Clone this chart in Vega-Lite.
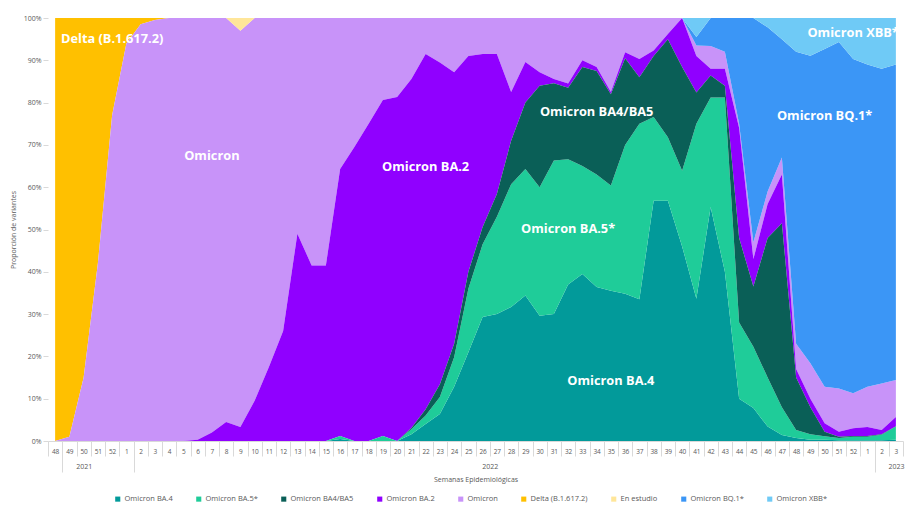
{
  "$schema": "https://vega.github.io/schema/vega-lite/v6.json",
  "width": 855,
  "height": 423,
  "autosize": {"type": "none"},
  "padding": {"left": 48, "top": 18, "right": 4, "bottom": 65},
  "background": "white",
  "config": {"view": {"stroke": null}, "font": "Open Sans"},
  "datasets": {
    "semanas": [
      {"semana": "2021-48", "variante": "Delta (B.1.617.2)", "pct": 100},
      {"semana": "2021-49", "variante": "Delta (B.1.617.2)", "pct": 99},
      {"semana": "2021-50", "variante": "Delta (B.1.617.2)", "pct": 85},
      {"semana": "2021-51", "variante": "Delta (B.1.617.2)", "pct": 58},
      {"semana": "2021-52", "variante": "Delta (B.1.617.2)", "pct": 23},
      {"semana": "2022-1", "variante": "Delta (B.1.617.2)", "pct": 6},
      {"semana": "2022-2", "variante": "Delta (B.1.617.2)", "pct": 1.5},
      {"semana": "2022-3", "variante": "Delta (B.1.617.2)", "pct": 0.5},
      {"semana": "2022-4", "variante": "Delta (B.1.617.2)", "pct": 0},

      {"semana": "2021-48", "variante": "Omicron", "pct": 0},
      {"semana": "2021-49", "variante": "Omicron", "pct": 1},
      {"semana": "2021-50", "variante": "Omicron", "pct": 15},
      {"semana": "2021-51", "variante": "Omicron", "pct": 42},
      {"semana": "2021-52", "variante": "Omicron", "pct": 77},
      {"semana": "2022-1", "variante": "Omicron", "pct": 94},
      {"semana": "2022-2", "variante": "Omicron", "pct": 98.5},
      {"semana": "2022-3", "variante": "Omicron", "pct": 99.5},
      {"semana": "2022-4", "variante": "Omicron", "pct": 100},
      {"semana": "2022-5", "variante": "Omicron", "pct": 100},
      {"semana": "2022-6", "variante": "Omicron", "pct": 99.7},
      {"semana": "2022-7", "variante": "Omicron", "pct": 98},
      {"semana": "2022-8", "variante": "Omicron", "pct": 95.5},
      {"semana": "2022-9", "variante": "Omicron", "pct": 93.7},
      {"semana": "2022-10", "variante": "Omicron", "pct": 90.5},
      {"semana": "2022-11", "variante": "Omicron", "pct": 82.5},
      {"semana": "2022-12", "variante": "Omicron", "pct": 74},
      {"semana": "2022-13", "variante": "Omicron", "pct": 51},
      {"semana": "2022-14", "variante": "Omicron", "pct": 58.5},
      {"semana": "2022-15", "variante": "Omicron", "pct": 58.5},
      {"semana": "2022-16", "variante": "Omicron", "pct": 35.7},
      {"semana": "2022-17", "variante": "Omicron", "pct": 30.5},
      {"semana": "2022-18", "variante": "Omicron", "pct": 25},
      {"semana": "2022-19", "variante": "Omicron", "pct": 19.4},
      {"semana": "2022-20", "variante": "Omicron", "pct": 18.7},
      {"semana": "2022-21", "variante": "Omicron", "pct": 14.4},
      {"semana": "2022-22", "variante": "Omicron", "pct": 8.5},
      {"semana": "2022-23", "variante": "Omicron", "pct": 10.5},
      {"semana": "2022-24", "variante": "Omicron", "pct": 12.8},
      {"semana": "2022-25", "variante": "Omicron", "pct": 9},
      {"semana": "2022-26", "variante": "Omicron", "pct": 8.5},
      {"semana": "2022-27", "variante": "Omicron", "pct": 8.5},
      {"semana": "2022-28", "variante": "Omicron", "pct": 17.5},
      {"semana": "2022-29", "variante": "Omicron", "pct": 10.4},
      {"semana": "2022-30", "variante": "Omicron", "pct": 12.8},
      {"semana": "2022-31", "variante": "Omicron", "pct": 14.4},
      {"semana": "2022-32", "variante": "Omicron", "pct": 15.5},
      {"semana": "2022-33", "variante": "Omicron", "pct": 10},
      {"semana": "2022-34", "variante": "Omicron", "pct": 11.6},
      {"semana": "2022-35", "variante": "Omicron", "pct": 17.5},
      {"semana": "2022-36", "variante": "Omicron", "pct": 8.1},
      {"semana": "2022-37", "variante": "Omicron", "pct": 9.7},
      {"semana": "2022-38", "variante": "Omicron", "pct": 7.7},
      {"semana": "2022-39", "variante": "Omicron", "pct": 3.8},
      {"semana": "2022-40", "variante": "Omicron", "pct": 0},
      {"semana": "2022-41", "variante": "Omicron", "pct": 2.5},
      {"semana": "2022-42", "variante": "Omicron", "pct": 5.4},
      {"semana": "2022-43", "variante": "Omicron", "pct": 4},
      {"semana": "2022-44", "variante": "Omicron", "pct": 1},
      {"semana": "2022-45", "variante": "Omicron", "pct": 4},
      {"semana": "2022-46", "variante": "Omicron", "pct": 3},
      {"semana": "2022-47", "variante": "Omicron", "pct": 4},
      {"semana": "2022-48", "variante": "Omicron", "pct": 6},
      {"semana": "2022-49", "variante": "Omicron", "pct": 8.4},
      {"semana": "2022-50", "variante": "Omicron", "pct": 8.6},
      {"semana": "2022-51", "variante": "Omicron", "pct": 10.2},
      {"semana": "2022-52", "variante": "Omicron", "pct": 8.3},
      {"semana": "2023-1", "variante": "Omicron", "pct": 9.5},
      {"semana": "2023-2", "variante": "Omicron", "pct": 11},
      {"semana": "2023-3", "variante": "Omicron", "pct": 8.7},

      {"semana": "2022-5", "variante": "Omicron BA.2", "pct": 0},
      {"semana": "2022-6", "variante": "Omicron BA.2", "pct": 0.3},
      {"semana": "2022-7", "variante": "Omicron BA.2", "pct": 2},
      {"semana": "2022-8", "variante": "Omicron BA.2", "pct": 4.5},
      {"semana": "2022-9", "variante": "Omicron BA.2", "pct": 3.3},
      {"semana": "2022-10", "variante": "Omicron BA.2", "pct": 9.5},
      {"semana": "2022-11", "variante": "Omicron BA.2", "pct": 17.5},
      {"semana": "2022-12", "variante": "Omicron BA.2", "pct": 26},
      {"semana": "2022-13", "variante": "Omicron BA.2", "pct": 49},
      {"semana": "2022-14", "variante": "Omicron BA.2", "pct": 41.5},
      {"semana": "2022-15", "variante": "Omicron BA.2", "pct": 41.5},
      {"semana": "2022-16", "variante": "Omicron BA.2", "pct": 63.1},
      {"semana": "2022-17", "variante": "Omicron BA.2", "pct": 69.5},
      {"semana": "2022-18", "variante": "Omicron BA.2", "pct": 75},
      {"semana": "2022-19", "variante": "Omicron BA.2", "pct": 79.4},
      {"semana": "2022-20", "variante": "Omicron BA.2", "pct": 81.3},
      {"semana": "2022-21", "variante": "Omicron BA.2", "pct": 82.5},
      {"semana": "2022-22", "variante": "Omicron BA.2", "pct": 84},
      {"semana": "2022-23", "variante": "Omicron BA.2", "pct": 76.1},
      {"semana": "2022-24", "variante": "Omicron BA.2", "pct": 64.2},
      {"semana": "2022-25", "variante": "Omicron BA.2", "pct": 51},
      {"semana": "2022-26", "variante": "Omicron BA.2", "pct": 40.9},
      {"semana": "2022-27", "variante": "Omicron BA.2", "pct": 33.1},
      {"semana": "2022-28", "variante": "Omicron BA.2", "pct": 11.5},
      {"semana": "2022-29", "variante": "Omicron BA.2", "pct": 9.6},
      {"semana": "2022-30", "variante": "Omicron BA.2", "pct": 3.2},
      {"semana": "2022-31", "variante": "Omicron BA.2", "pct": 1},
      {"semana": "2022-32", "variante": "Omicron BA.2", "pct": 1},
      {"semana": "2022-33", "variante": "Omicron BA.2", "pct": 1.6},
      {"semana": "2022-34", "variante": "Omicron BA.2", "pct": 0.9},
      {"semana": "2022-35", "variante": "Omicron BA.2", "pct": 0.5},
      {"semana": "2022-36", "variante": "Omicron BA.2", "pct": 1.4},
      {"semana": "2022-37", "variante": "Omicron BA.2", "pct": 4.3},
      {"semana": "2022-38", "variante": "Omicron BA.2", "pct": 1.3},
      {"semana": "2022-39", "variante": "Omicron BA.2", "pct": 1.2},
      {"semana": "2022-40", "variante": "Omicron BA.2", "pct": 11.6},
      {"semana": "2022-41", "variante": "Omicron BA.2", "pct": 8.6},
      {"semana": "2022-42", "variante": "Omicron BA.2", "pct": 1.6},
      {"semana": "2022-43", "variante": "Omicron BA.2", "pct": 4},
      {"semana": "2022-44", "variante": "Omicron BA.2", "pct": 26},
      {"semana": "2022-45", "variante": "Omicron BA.2", "pct": 6.5},
      {"semana": "2022-46", "variante": "Omicron BA.2", "pct": 8},
      {"semana": "2022-47", "variante": "Omicron BA.2", "pct": 11.5},
      {"semana": "2022-48", "variante": "Omicron BA.2", "pct": 2},
      {"semana": "2022-49", "variante": "Omicron BA.2", "pct": 2},
      {"semana": "2022-50", "variante": "Omicron BA.2", "pct": 2},
      {"semana": "2022-51", "variante": "Omicron BA.2", "pct": 1.2},
      {"semana": "2022-52", "variante": "Omicron BA.2", "pct": 1.8},
      {"semana": "2023-1", "variante": "Omicron BA.2", "pct": 2.1},
      {"semana": "2023-2", "variante": "Omicron BA.2", "pct": 1},
      {"semana": "2023-3", "variante": "Omicron BA.2", "pct": 2.2},

      {"semana": "2022-15", "variante": "Omicron BA.4", "pct": 0},
      {"semana": "2022-16", "variante": "Omicron BA.4", "pct": 0.5},
      {"semana": "2022-17", "variante": "Omicron BA.4", "pct": 0},
      {"semana": "2022-20", "variante": "Omicron BA.4", "pct": 0},
      {"semana": "2022-21", "variante": "Omicron BA.4", "pct": 1.6},
      {"semana": "2022-22", "variante": "Omicron BA.4", "pct": 4},
      {"semana": "2022-23", "variante": "Omicron BA.4", "pct": 6.4},
      {"semana": "2022-24", "variante": "Omicron BA.4", "pct": 12.8},
      {"semana": "2022-25", "variante": "Omicron BA.4", "pct": 21},
      {"semana": "2022-26", "variante": "Omicron BA.4", "pct": 29.3},
      {"semana": "2022-27", "variante": "Omicron BA.4", "pct": 30},
      {"semana": "2022-28", "variante": "Omicron BA.4", "pct": 31.7},
      {"semana": "2022-29", "variante": "Omicron BA.4", "pct": 34.4},
      {"semana": "2022-30", "variante": "Omicron BA.4", "pct": 29.6},
      {"semana": "2022-31", "variante": "Omicron BA.4", "pct": 30},
      {"semana": "2022-32", "variante": "Omicron BA.4", "pct": 37},
      {"semana": "2022-33", "variante": "Omicron BA.4", "pct": 39.5},
      {"semana": "2022-34", "variante": "Omicron BA.4", "pct": 36.4},
      {"semana": "2022-35", "variante": "Omicron BA.4", "pct": 35.5},
      {"semana": "2022-36", "variante": "Omicron BA.4", "pct": 34.8},
      {"semana": "2022-37", "variante": "Omicron BA.4", "pct": 33.5},
      {"semana": "2022-38", "variante": "Omicron BA.4", "pct": 56.8},
      {"semana": "2022-39", "variante": "Omicron BA.4", "pct": 56.8},
      {"semana": "2022-40", "variante": "Omicron BA.4", "pct": 46},
      {"semana": "2022-41", "variante": "Omicron BA.4", "pct": 33.6},
      {"semana": "2022-42", "variante": "Omicron BA.4", "pct": 55.3},
      {"semana": "2022-43", "variante": "Omicron BA.4", "pct": 40},
      {"semana": "2022-44", "variante": "Omicron BA.4", "pct": 10},
      {"semana": "2022-45", "variante": "Omicron BA.4", "pct": 7.8},
      {"semana": "2022-46", "variante": "Omicron BA.4", "pct": 3.4},
      {"semana": "2022-47", "variante": "Omicron BA.4", "pct": 1.4},
      {"semana": "2022-48", "variante": "Omicron BA.4", "pct": 0.7},
      {"semana": "2022-49", "variante": "Omicron BA.4", "pct": 0.3},
      {"semana": "2022-50", "variante": "Omicron BA.4", "pct": 0.3},
      {"semana": "2022-51", "variante": "Omicron BA.4", "pct": 0.2},
      {"semana": "2022-52", "variante": "Omicron BA.4", "pct": 0.2},
      {"semana": "2023-1", "variante": "Omicron BA.4", "pct": 0.2},
      {"semana": "2023-2", "variante": "Omicron BA.4", "pct": 0.2},
      {"semana": "2023-3", "variante": "Omicron BA.4", "pct": 0.3},

      {"semana": "2022-15", "variante": "Omicron BA.5*", "pct": 0},
      {"semana": "2022-16", "variante": "Omicron BA.5*", "pct": 0.7},
      {"semana": "2022-17", "variante": "Omicron BA.5*", "pct": 0},
      {"semana": "2022-18", "variante": "Omicron BA.5*", "pct": 0},
      {"semana": "2022-19", "variante": "Omicron BA.5*", "pct": 1.2},
      {"semana": "2022-20", "variante": "Omicron BA.5*", "pct": 0},
      {"semana": "2022-21", "variante": "Omicron BA.5*", "pct": 1.2},
      {"semana": "2022-22", "variante": "Omicron BA.5*", "pct": 2},
      {"semana": "2022-23", "variante": "Omicron BA.5*", "pct": 4},
      {"semana": "2022-24", "variante": "Omicron BA.5*", "pct": 7},
      {"semana": "2022-25", "variante": "Omicron BA.5*", "pct": 15},
      {"semana": "2022-26", "variante": "Omicron BA.5*", "pct": 17.2},
      {"semana": "2022-27", "variante": "Omicron BA.5*", "pct": 23},
      {"semana": "2022-28", "variante": "Omicron BA.5*", "pct": 29},
      {"semana": "2022-29", "variante": "Omicron BA.5*", "pct": 29.9},
      {"semana": "2022-30", "variante": "Omicron BA.5*", "pct": 30.4},
      {"semana": "2022-31", "variante": "Omicron BA.5*", "pct": 36.3},
      {"semana": "2022-32", "variante": "Omicron BA.5*", "pct": 29.6},
      {"semana": "2022-33", "variante": "Omicron BA.5*", "pct": 25.5},
      {"semana": "2022-34", "variante": "Omicron BA.5*", "pct": 26.6},
      {"semana": "2022-35", "variante": "Omicron BA.5*", "pct": 24.9},
      {"semana": "2022-36", "variante": "Omicron BA.5*", "pct": 35.2},
      {"semana": "2022-37", "variante": "Omicron BA.5*", "pct": 41.5},
      {"semana": "2022-38", "variante": "Omicron BA.5*", "pct": 19.8},
      {"semana": "2022-39", "variante": "Omicron BA.5*", "pct": 15},
      {"semana": "2022-40", "variante": "Omicron BA.5*", "pct": 17.9},
      {"semana": "2022-41", "variante": "Omicron BA.5*", "pct": 41.4},
      {"semana": "2022-42", "variante": "Omicron BA.5*", "pct": 25.9},
      {"semana": "2022-43", "variante": "Omicron BA.5*", "pct": 41.2},
      {"semana": "2022-44", "variante": "Omicron BA.5*", "pct": 18},
      {"semana": "2022-45", "variante": "Omicron BA.5*", "pct": 14.5},
      {"semana": "2022-46", "variante": "Omicron BA.5*", "pct": 11.6},
      {"semana": "2022-47", "variante": "Omicron BA.5*", "pct": 6.6},
      {"semana": "2022-48", "variante": "Omicron BA.5*", "pct": 1.9},
      {"semana": "2022-49", "variante": "Omicron BA.5*", "pct": 1.3},
      {"semana": "2022-50", "variante": "Omicron BA.5*", "pct": 0.8},
      {"semana": "2022-51", "variante": "Omicron BA.5*", "pct": 0.5},
      {"semana": "2022-52", "variante": "Omicron BA.5*", "pct": 0.8},
      {"semana": "2023-1", "variante": "Omicron BA.5*", "pct": 0.8},
      {"semana": "2023-2", "variante": "Omicron BA.5*", "pct": 1.3},
      {"semana": "2023-3", "variante": "Omicron BA.5*", "pct": 3.1},

      {"semana": "2022-20", "variante": "Omicron BA4/BA5", "pct": 0},
      {"semana": "2022-21", "variante": "Omicron BA4/BA5", "pct": 0.3},
      {"semana": "2022-22", "variante": "Omicron BA4/BA5", "pct": 1.5},
      {"semana": "2022-23", "variante": "Omicron BA4/BA5", "pct": 3},
      {"semana": "2022-24", "variante": "Omicron BA4/BA5", "pct": 3.2},
      {"semana": "2022-25", "variante": "Omicron BA4/BA5", "pct": 4},
      {"semana": "2022-26", "variante": "Omicron BA4/BA5", "pct": 4.1},
      {"semana": "2022-27", "variante": "Omicron BA4/BA5", "pct": 5.4},
      {"semana": "2022-28", "variante": "Omicron BA4/BA5", "pct": 10.3},
      {"semana": "2022-29", "variante": "Omicron BA4/BA5", "pct": 15.7},
      {"semana": "2022-30", "variante": "Omicron BA4/BA5", "pct": 24},
      {"semana": "2022-31", "variante": "Omicron BA4/BA5", "pct": 18.3},
      {"semana": "2022-32", "variante": "Omicron BA4/BA5", "pct": 16.9},
      {"semana": "2022-33", "variante": "Omicron BA4/BA5", "pct": 23.4},
      {"semana": "2022-34", "variante": "Omicron BA4/BA5", "pct": 24.5},
      {"semana": "2022-35", "variante": "Omicron BA4/BA5", "pct": 21.6},
      {"semana": "2022-36", "variante": "Omicron BA4/BA5", "pct": 20.5},
      {"semana": "2022-37", "variante": "Omicron BA4/BA5", "pct": 11},
      {"semana": "2022-38", "variante": "Omicron BA4/BA5", "pct": 14.4},
      {"semana": "2022-39", "variante": "Omicron BA4/BA5", "pct": 23.2},
      {"semana": "2022-40", "variante": "Omicron BA4/BA5", "pct": 24.5},
      {"semana": "2022-41", "variante": "Omicron BA4/BA5", "pct": 7.4},
      {"semana": "2022-42", "variante": "Omicron BA4/BA5", "pct": 5.2},
      {"semana": "2022-43", "variante": "Omicron BA4/BA5", "pct": 2.8},
      {"semana": "2022-44", "variante": "Omicron BA4/BA5", "pct": 20},
      {"semana": "2022-45", "variante": "Omicron BA4/BA5", "pct": 14.2},
      {"semana": "2022-46", "variante": "Omicron BA4/BA5", "pct": 33},
      {"semana": "2022-47", "variante": "Omicron BA4/BA5", "pct": 43.5},
      {"semana": "2022-48", "variante": "Omicron BA4/BA5", "pct": 12.4},
      {"semana": "2022-49", "variante": "Omicron BA4/BA5", "pct": 6.4},
      {"semana": "2022-50", "variante": "Omicron BA4/BA5", "pct": 1.1},
      {"semana": "2022-51", "variante": "Omicron BA4/BA5", "pct": 0.3},
      {"semana": "2022-52", "variante": "Omicron BA4/BA5", "pct": 0.2},
      {"semana": "2023-1", "variante": "Omicron BA4/BA5", "pct": 0.2},
      {"semana": "2023-2", "variante": "Omicron BA4/BA5", "pct": 0.1},
      {"semana": "2023-3", "variante": "Omicron BA4/BA5", "pct": 0.1},

      {"semana": "2022-8", "variante": "En estudio", "pct": 0},
      {"semana": "2022-9", "variante": "En estudio", "pct": 3},
      {"semana": "2022-10", "variante": "En estudio", "pct": 0},

      {"semana": "2022-40", "variante": "Omicron BQ.1*", "pct": 0},
      {"semana": "2022-41", "variante": "Omicron BQ.1*", "pct": 2},
      {"semana": "2022-42", "variante": "Omicron BQ.1*", "pct": 6.6},
      {"semana": "2022-43", "variante": "Omicron BQ.1*", "pct": 8},
      {"semana": "2022-44", "variante": "Omicron BQ.1*", "pct": 25},
      {"semana": "2022-45", "variante": "Omicron BQ.1*", "pct": 53},
      {"semana": "2022-46", "variante": "Omicron BQ.1*", "pct": 38.8},
      {"semana": "2022-47", "variante": "Omicron BQ.1*", "pct": 28},
      {"semana": "2022-48", "variante": "Omicron BQ.1*", "pct": 69},
      {"semana": "2022-49", "variante": "Omicron BQ.1*", "pct": 72.7},
      {"semana": "2022-50", "variante": "Omicron BQ.1*", "pct": 79.9},
      {"semana": "2022-51", "variante": "Omicron BQ.1*", "pct": 81.9},
      {"semana": "2022-52", "variante": "Omicron BQ.1*", "pct": 79},
      {"semana": "2023-1", "variante": "Omicron BQ.1*", "pct": 76.2},
      {"semana": "2023-2", "variante": "Omicron BQ.1*", "pct": 74.4},
      {"semana": "2023-3", "variante": "Omicron BQ.1*", "pct": 74.6},

      {"semana": "2022-40", "variante": "Omicron XBB*", "pct": 0},
      {"semana": "2022-41", "variante": "Omicron XBB*", "pct": 4.5},
      {"semana": "2022-42", "variante": "Omicron XBB*", "pct": 0},
      {"semana": "2022-45", "variante": "Omicron XBB*", "pct": 0},
      {"semana": "2022-46", "variante": "Omicron XBB*", "pct": 2.2},
      {"semana": "2022-47", "variante": "Omicron XBB*", "pct": 5},
      {"semana": "2022-48", "variante": "Omicron XBB*", "pct": 8},
      {"semana": "2022-49", "variante": "Omicron XBB*", "pct": 8.9},
      {"semana": "2022-50", "variante": "Omicron XBB*", "pct": 7.3},
      {"semana": "2022-51", "variante": "Omicron XBB*", "pct": 5.7},
      {"semana": "2022-52", "variante": "Omicron XBB*", "pct": 9.7},
      {"semana": "2023-1", "variante": "Omicron XBB*", "pct": 11},
      {"semana": "2023-2", "variante": "Omicron XBB*", "pct": 12},
      {"semana": "2023-3", "variante": "Omicron XBB*", "pct": 11}
    ],
    "etiquetas": [
      {"semana": "2021-52", "posicion": 0.95, "texto": "Delta (B.1.617.2)"},
      {"semana": "2022-7", "posicion": 0.674, "texto": "Omicron"},
      {"semana": "2022-22", "posicion": 0.648, "texto": "Omicron BA.2"},
      {"semana": "2022-34", "posicion": 0.778, "texto": "Omicron BA4/BA5"},
      {"semana": "2022-32", "posicion": 0.501, "texto": "Omicron BA.5*"},
      {"semana": "2022-35", "posicion": 0.143, "texto": "Omicron BA.4"},
      {"semana": "2022-50", "posicion": 0.769, "texto": "Omicron BQ.1*"},
      {"semana": "2022-52", "posicion": 0.964, "texto": "Omicron XBB*"}
    ]
  },
  "resolve": {"axis": {"x": "independent"}},
  "layer": [
    {
      "data": {"name": "semanas"},
      "transform": [
        {
          "lookup": "variante",
          "from": {
            "data": {"values": [
              {"variante": "Omicron BA.4", "orden": 1},
              {"variante": "Omicron BA.5*", "orden": 2},
              {"variante": "Omicron BA4/BA5", "orden": 3},
              {"variante": "Omicron BA.2", "orden": 4},
              {"variante": "Omicron", "orden": 5},
              {"variante": "Delta (B.1.617.2)", "orden": 6},
              {"variante": "En estudio", "orden": 7},
              {"variante": "Omicron BQ.1*", "orden": 8},
              {"variante": "Omicron XBB*", "orden": 9}
            ]},
            "key": "variante",
            "fields": ["orden"]
          }
        }
      ],
      "mark": {"type": "area", "interpolate": "linear"},
      "encoding": {
        "x": {
          "field": "semana",
          "type": "ordinal",
          "bandPosition": 0.5,
          "scale": {
            "type": "band",
            "paddingInner": 0,
            "paddingOuter": 0,
            "domain": ["2021-48","2021-49","2021-50","2021-51","2021-52",
              "2022-1","2022-2","2022-3","2022-4","2022-5","2022-6","2022-7","2022-8","2022-9","2022-10",
              "2022-11","2022-12","2022-13","2022-14","2022-15","2022-16","2022-17","2022-18","2022-19","2022-20",
              "2022-21","2022-22","2022-23","2022-24","2022-25","2022-26","2022-27","2022-28","2022-29","2022-30",
              "2022-31","2022-32","2022-33","2022-34","2022-35","2022-36","2022-37","2022-38","2022-39","2022-40",
              "2022-41","2022-42","2022-43","2022-44","2022-45","2022-46","2022-47","2022-48","2022-49","2022-50",
              "2022-51","2022-52","2023-1","2023-2","2023-3"]
          },
          "axis": {
            "orient": "bottom",
            "title": null,
            "labelExpr": "split(datum.value, '-')[1]",
            "labelAngle": 0,
            "labelFontSize": 6.5,
            "labelColor": "#595959",
            "labelBaseline": "middle",
            "labelPadding": -5,
            "labelOverlap": false,
            "labelBound": false,
            "labelFlush": false,
            "tickBand": "extent",
            "tickSize": 15,
            "tickColor": "#d9d9d9",
            "domainColor": "#d9d9d9",
            "grid": false
          }
        },
        "y": {
          "field": "pct",
          "type": "quantitative",
          "stack": "normalize",
          "scale": {"domain": [0, 1]},
          "axis": {
            "title": "Proporción de variantes",
            "values": [0, 0.1, 0.2, 0.3, 0.4, 0.5, 0.6, 0.7, 0.8, 0.9, 1],
            "format": ".0%",
            "labelFontSize": 7,
            "labelColor": "#595959",
            "labelPadding": 2,
            "tickSize": 5,
            "tickColor": "#d9d9d9",
            "domain": false,
            "grid": false,
            "titleFontSize": 7,
            "titleFontWeight": "normal",
            "titleColor": "#595959",
            "titlePadding": 7
          }
        },
        "color": {
          "field": "variante",
          "type": "nominal",
          "scale": {
            "domain": ["Omicron BA.4", "Omicron BA.5*", "Omicron BA4/BA5", "Omicron BA.2", "Omicron", "Delta (B.1.617.2)", "En estudio", "Omicron BQ.1*", "Omicron XBB*"],
            "range": ["#029a9a", "#1fcc99", "#0a5f57", "#9000ff", "#c893f9", "#ffc000", "#ffe699", "#3b96f6", "#6fcaf6"]
          },
          "legend": {
            "orient": "none",
            "legendX": 66,
            "legendY": 477,
            "direction": "horizontal",
            "columns": 9,
            "title": null,
            "symbolType": "square",
            "symbolSize": 26,
            "symbolStrokeWidth": 0,
            "labelFontSize": 7.5,
            "labelColor": "#595959",
            "labelOffset": 3,
            "columnPadding": 22
          }
        },
        "order": {"field": "orden", "type": "quantitative"}
      }
    },
    {
      "data": {"name": "etiquetas"},
      "mark": {"type": "text", "font": "Open Sans", "fontWeight": "bold", "fontSize": 12.8, "color": "white", "align": "center", "baseline": "middle"},
      "encoding": {
        "x": {
          "field": "semana",
          "type": "ordinal",
          "bandPosition": 0.5,
          "axis": {
            "orient": "bottom",
            "title": "Semanas Epidemiológicas",
            "labelExpr": "datum.value == '2021-50' ? '2021' : datum.value == '2022-26' ? '2022' : datum.value == '2023-3' ? '2023' : ''",
            "labelAngle": 0,
            "labelFontSize": 7,
            "labelColor": "#595959",
            "labelBaseline": "middle",
            "labelPadding": -6,
            "labelOverlap": false,
            "labelBound": false,
            "labelOffset": {"condition": {"test": "datum.value == '2022-26'", "value": 7}, "value": 0},
            "tickBand": "extent",
            "tickSize": 31,
            "tickColor": "#d9d9d9",
            "tickOpacity": {"condition": {"test": "datum.value == '2021-48' || datum.value == '2022-1' || datum.value == '2023-1'", "value": 1}, "value": 0},
            "domain": false,
            "grid": false,
            "titleFontSize": 7,
            "titleFontWeight": "normal",
            "titleColor": "#595959",
            "titlePadding": 3
          }
        },
        "y": {
          "field": "posicion",
          "type": "quantitative",
          "axis": {
            "title": "Proporción de variantes",
            "values": [0, 0.1, 0.2, 0.3, 0.4, 0.5, 0.6, 0.7, 0.8, 0.9, 1],
            "format": ".0%",
            "labelFontSize": 7,
            "labelColor": "#595959",
            "labelPadding": 2,
            "tickSize": 5,
            "tickColor": "#d9d9d9",
            "domain": false,
            "grid": false,
            "titleFontSize": 7,
            "titleFontWeight": "normal",
            "titleColor": "#595959",
            "titlePadding": 7
          }
        },
        "text": {"field": "texto", "type": "nominal"}
      }
    }
  ]
}
